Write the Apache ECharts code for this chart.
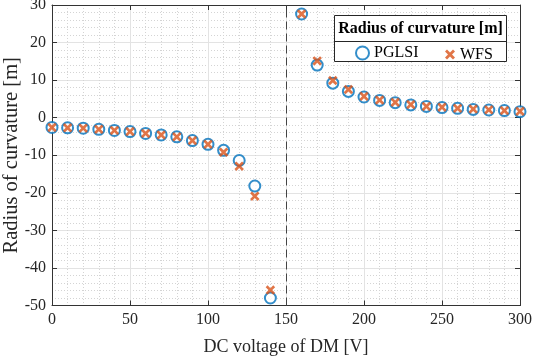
<!DOCTYPE html>
<html>
<head>
<meta charset="utf-8">
<script src="https://cdn.jsdelivr.net/npm/echarts@6/dist/echarts.min.js"></script>
<style>html,body{margin:0;padding:0;background:#fff;}#chart{width:533px;height:357px;}</style>
</head>
<body>
<div id="chart"></div>
<script>
const voltage = [0,10,20,30,40,50,60,70,80,90,100,110,120,130,140,160,170,180,190,200,210,220,230,240,250,260,270,280,290,300];
const pglsi = [-2.6,-2.7,-2.8,-3.1,-3.4,-3.7,-4.2,-4.6,-5.1,-6.1,-7.1,-8.7,-11.4,-18.2,-48.0,27.6,14.0,9.2,7.0,5.5,4.6,4.0,3.4,3.0,2.7,2.5,2.2,2.05,1.9,1.6];
const wfs = [-2.6,-2.7,-2.8,-3.1,-3.4,-3.7,-4.2,-4.6,-5.1,-6.1,-7.1,-9.2,-12.9,-20.9,-45.9,27.6,15.1,9.9,7.5,5.7,4.7,4.1,3.5,3.0,2.8,2.5,2.3,2.1,1.9,1.7];
const dividerX = 150;
const xTitle = 'DC voltage of DM [V]';
const yTitle = 'Radius of curvature [m]';
const legendTitle = 'Radius of curvature [m]';

const FONT = 'Liberation Serif';
const AX = '#333333';
const X_PATH = 'path://M2,0 L5,3 L8,0 L10,2 L7,5 L10,8 L8,10 L5,7 L2,10 L0,8 L3,5 L0,2 Z';

const chart = echarts.init(document.getElementById('chart'), null, {renderer:'canvas'});

const baseX = {
  type:'value', min:0, max:300, interval:50
};
const baseY = {
  type:'value', min:-50, max:30, interval:10
};

chart.setOption({
  animation:false,
  backgroundColor:'#ffffff',
  grid:{left:52, right:13, top:5, bottom:51.5, containLabel:false, outerBoundsMode:'none'},
  xAxis:[
    Object.assign({}, baseX, {
      position:'bottom',
      name:xTitle, nameLocation:'middle', nameGap:33, nameMoveOverlap:false,
      nameTextStyle:{fontFamily:FONT, fontSize:18, color:'#262626'},
      axisLine:{show:true, onZero:false, lineStyle:{color:AX, width:1}},
      axisTick:{show:true, inside:true, length:5, lineStyle:{color:AX}},
      axisLabel:{fontFamily:FONT, fontSize:16, color:'#262626', margin:6},
      splitLine:{show:true, lineStyle:{color:'#e3e3e3', width:1}},
      minorTick:{show:false, splitNumber:5},
      minorSplitLine:{show:true, lineStyle:{color:'#d4d4d4', width:1, type:[1,2]}}
    }),
    Object.assign({}, baseX, {
      position:'top',
      axisLine:{show:true, onZero:false, lineStyle:{color:AX, width:1}},
      axisTick:{show:true, inside:true, length:5, lineStyle:{color:AX}},
      axisLabel:{show:false},
      splitLine:{show:false}
    })
  ],
  yAxis:[
    Object.assign({}, baseY, {
      position:'left',
      name:yTitle, nameLocation:'middle', nameGap:30, nameMoveOverlap:false,
      nameTextStyle:{fontFamily:FONT, fontSize:20.5, color:'#262626'},
      axisLine:{show:true, onZero:false, lineStyle:{color:AX, width:1}},
      axisTick:{show:true, inside:true, length:5, lineStyle:{color:AX}},
      axisLabel:{fontFamily:FONT, fontSize:16, color:'#262626', margin:6},
      splitLine:{show:true, lineStyle:{color:'#e3e3e3', width:1}},
      minorTick:{show:false, splitNumber:5},
      minorSplitLine:{show:true, lineStyle:{color:'#d4d4d4', width:1, type:[1,2]}}
    }),
    Object.assign({}, baseY, {
      position:'right',
      axisLine:{show:true, onZero:false, lineStyle:{color:AX, width:1}},
      axisTick:{show:true, inside:true, length:5, lineStyle:{color:AX}},
      axisLabel:{show:false},
      splitLine:{show:false}
    })
  ],
  legend:[
    {
      data:[{name:'PGLSI', icon:'emptyCircle'}],
      left:355, top:45, padding:0, itemWidth:13, itemHeight:13, itemGap:0, itemTextGap:15,
      textStyle:{fontFamily:FONT, fontSize:16, color:'#000'},
      itemStyle:{borderWidth:2},
      selectedMode:false, z:10
    },
    {
      data:[{name:'WFS', icon:X_PATH}],
      left:445, top:46.5, padding:0, itemWidth:10, itemHeight:10, itemGap:0, itemTextGap:17,
      textStyle:{fontFamily:FONT, fontSize:16, color:'#000'},
      selectedMode:false, z:10
    }
  ],
  graphic:[
    {type:'rect', z:8, shape:{x:334.5, y:15.5, width:172, height:46}, style:{fill:'#ffffff', stroke:'#262626', lineWidth:1}},
    {type:'line', z:9, shape:{x1:334.5, y1:41.5, x2:506.5, y2:41.5}, style:{stroke:'#262626', lineWidth:1}},
    {type:'text', z:9, x:420.5, y:28.5, style:{text:legendTitle, fontFamily:FONT, fontSize:16, fontWeight:'bold', fill:'#000', align:'center', verticalAlign:'middle'}}
  ],
  series:[
    {
      name:'PGLSI', type:'scatter',
      data: voltage.map((v,i)=>[v, pglsi[i]]),
      symbol:'emptyCircle', symbolSize:11,
      itemStyle:{color:'#0072BD', borderColor:'#0072BD', borderWidth:2},
      z:3,
      markLine:{
        silent:true, symbol:['none','none'], label:{show:false},
        lineStyle:{color:'#444444', width:1, type:[8,4]},
        data:[{xAxis:dividerX}]
      }
    },
    {
      name:'WFS', type:'scatter',
      data: voltage.map((v,i)=>[v, wfs[i]]),
      symbol:X_PATH, symbolSize:9.5,
      itemStyle:{color:'#D95319'},
      z:4
    }
  ]
});
</script>
</body>
</html>
